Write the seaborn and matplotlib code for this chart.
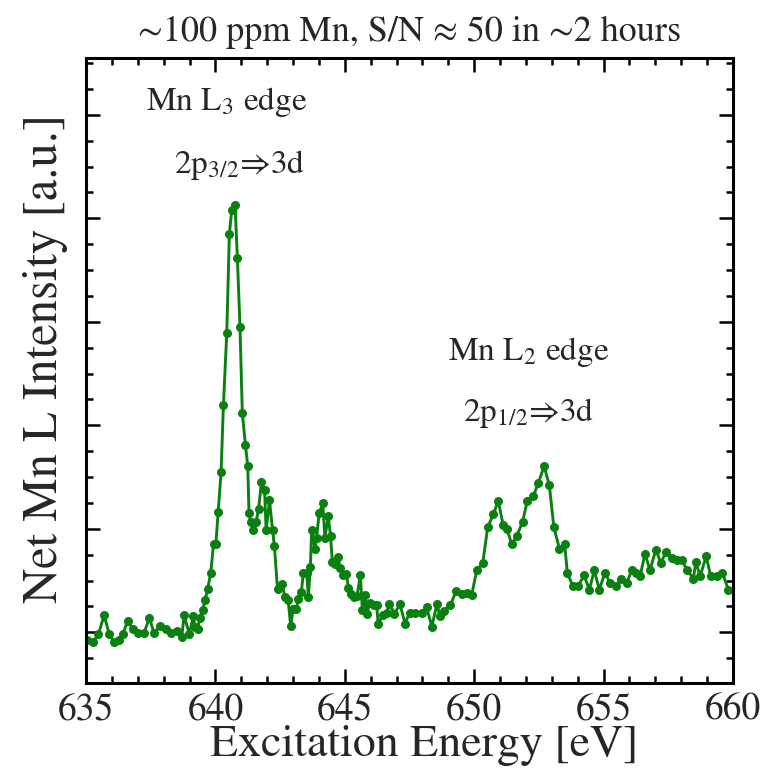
import numpy as np
import seaborn as sns
import matplotlib.pyplot as plt
from matplotlib.ticker import MultipleLocator, NullFormatter

# ==========================================
# Dados (energia em eV, intensidade em u.a.)
# ==========================================
energia = [
    635.05, 635.28, 635.48, 635.70, 635.90, 636.09, 636.29, 636.42, 636.61, 636.80,
    637.02, 637.24, 637.45, 637.63, 637.86, 638.09, 638.27, 638.50, 638.70, 638.79,
    638.99, 639.15, 639.21, 639.31, 639.40, 639.51, 639.61, 639.70, 639.82, 639.93,
    640.02, 640.11, 640.22, 640.31, 640.44, 640.54, 640.63, 640.76, 640.85, 640.95,
    641.04, 641.16, 641.25, 641.30, 641.36, 641.46, 641.57, 641.67, 641.78, 641.90,
    641.96, 642.09, 642.21, 642.28, 642.40, 642.59, 642.68, 642.81, 642.91, 643.00,
    643.13, 643.20, 643.32, 643.40, 643.53, 643.59, 643.67, 643.72, 643.85, 643.91,
    644.01, 644.15, 644.23, 644.36, 644.45, 644.52, 644.62, 644.75, 644.81, 644.92,
    645.06, 645.14, 645.24, 645.36, 645.47, 645.60, 645.68, 645.78, 645.86, 645.96,
    646.13, 646.23, 646.29, 646.48, 646.63, 646.71, 646.92, 647.13, 647.33, 647.50,
    647.71, 647.97, 648.16, 648.36, 648.56, 648.68, 648.85, 649.08, 649.30, 649.52,
    649.71, 649.90, 650.10, 650.33, 650.52, 650.74, 650.93, 651.12, 651.26, 651.45,
    651.64, 651.87, 652.05, 652.28, 652.48, 652.70, 652.90, 653.08, 653.29, 653.49,
    653.60, 653.81, 654.02, 654.24, 654.45, 654.64, 654.83, 655.05, 655.25, 655.48,
    655.67, 655.89, 656.09, 656.25, 656.41, 656.60, 656.79, 657.02, 657.21, 657.41,
    657.63, 657.82, 658.02, 658.23, 658.47, 658.56, 658.73, 658.96, 659.14, 659.37,
    659.59, 659.82,
]
intensidade = [
    -0.071, -0.097, -0.019, 0.164, -0.019, -0.097, -0.077, -0.019, 0.109, 0.036,
    -0.010, -0.010, 0.142, -0.010, 0.063, 0.036, -0.010, 0.010, -0.048, 0.164,
    -0.015, 0.158, 0.048, 0.029, 0.135, 0.218, 0.316, 0.421, 0.571, 0.858,
    0.858, 1.165, 1.552, 2.195, 2.895, 3.849, 4.081, 4.130, 3.614, 2.953,
    2.121, 1.809, 1.605, 1.148, 1.067, 0.986, 1.064, 1.194, 1.454, 1.378,
    0.986, 1.274, 0.986, 0.832, 0.419, 0.471, 0.338, 0.316, 0.058, 0.222,
    0.222, 0.326, 0.390, 0.573, 0.571, 0.341, 0.629, 0.989, 0.805, 0.916,
    1.151, 1.248, 0.914, 1.119, 0.928, 0.680, 0.658, 0.728, 0.621, 0.551,
    0.568, 0.426, 0.370, 0.345, 0.348, 0.551, 0.213, 0.365, 0.181, 0.285,
    0.261, 0.261, 0.084, 0.164, 0.187, 0.278, 0.181, 0.271, 0.084, 0.189,
    0.184, 0.184, 0.245, 0.055, 0.271, 0.155, 0.208, 0.261, 0.399, 0.368,
    0.380, 0.358, 0.600, 0.670, 1.013, 1.141, 1.270, 1.035, 1.003, 0.851,
    0.928, 1.067, 1.270, 1.315, 1.444, 1.605, 1.422, 1.013, 0.809, 0.858,
    0.573, 0.445, 0.445, 0.551, 0.413, 0.600, 0.413, 0.573, 0.477, 0.445,
    0.519, 0.477, 0.600, 0.571, 0.542, 0.761, 0.600, 0.800, 0.670, 0.777,
    0.722, 0.696, 0.696, 0.600, 0.519, 0.680, 0.542, 0.735, 0.542, 0.542,
    0.573, 0.413,
]

titulo = "∼100 ppm Mn, S/N ≈ 50 in ∼2 hours"
rotulo_x = "Excitation Energy [eV]"
rotulo_y = "Net Mn L Intensity [a.u.]"

# ==========================================
# Estilo
# ==========================================
sns.set_style("ticks")
plt.rcParams['font.family'] = ['STIXGeneral', 'DejaVu Serif']
plt.rcParams['mathtext.fontset'] = 'stix'

fig = plt.figure(figsize=(7.65, 7.83), dpi=100)
ax = fig.add_axes([0.1124, 0.1277, 0.8458, 0.7983])

sns.lineplot(x=energia, y=intensidade, ax=ax, sort=False, estimator=None,
             color='#0a8010', linewidth=2.1, marker='o', markersize=6.5,
             markeredgewidth=0, markeredgecolor='#0a8010')

ax.set_xlim(635, 660)
ax.set_ylim(-0.49, 5.55)
ax.xaxis.set_major_locator(MultipleLocator(5))
ax.xaxis.set_minor_locator(MultipleLocator(1))
ax.yaxis.set_major_locator(MultipleLocator(1))
ax.yaxis.set_minor_locator(MultipleLocator(0.25))
ax.yaxis.set_major_formatter(NullFormatter())

ax.tick_params(which='both', direction='in', top=True, right=True, width=1.8, color='black')
ax.tick_params(which='major', length=10, labelsize=27, pad=7)
ax.tick_params(which='minor', length=5)
for s in ax.spines.values():
    s.set_linewidth(2.2)
    s.set_color('black')

ax.set_xlabel(rotulo_x, fontsize=33, labelpad=-2)
ax.set_ylabel(rotulo_y, fontsize=35, labelpad=6)
ax.xaxis.label.set_x(0.523)
ax.yaxis.label.set_y(0.52)
ax.set_title(titulo, fontsize=26, pad=12)

# Anotações das bordas
fs_anot = 24
ax.text(640.45, 5.12, r"Mn L$_3$ edge", fontsize=fs_anot, ha='center', va='center')
ax.text(640.95, 4.52, r"2p$_{3/2}$⇒3d", fontsize=fs_anot, ha='center', va='center')
ax.text(652.1, 2.71, r"Mn L$_2$ edge", fontsize=fs_anot, ha='center', va='center')
ax.text(652.1, 2.12, r"2p$_{1/2}$⇒3d", fontsize=fs_anot, ha='center', va='center')

plt.savefig('out.png', dpi=100)
plt.close()
